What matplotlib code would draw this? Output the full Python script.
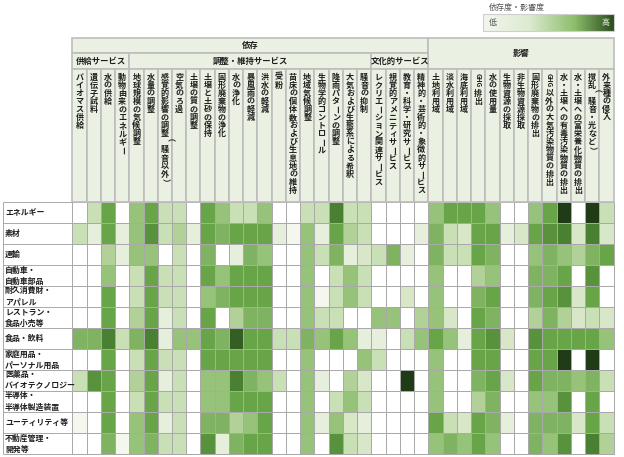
import numpy as np
import matplotlib
matplotlib.use("Agg")
import matplotlib.pyplot as plt
from matplotlib.patches import Rectangle
from matplotlib.colors import LinearSegmentedColormap

plt.rcParams['font.family'] = ['Noto Sans CJK JP', 'DejaVu Sans']

# ---- data ----
sectors = ["エネルギー", "素材", "運輸", "自動車・\n自動車部品", "耐久消費財・\nアパレル",
           "レストラン・\n食品小売等", "食品・飲料", "家庭用品・\nパーソナル用品",
           "医薬品・\nバイオテクノロジー", "半導体・\n半導体製造装置", "ユーティリティ等",
           "不動産管理・\n開発等"]

supply = ["バイオマス供給", "遺伝子試料", "水の供給", "動物由来のエネルギー"]
regulating = ["地球規模の気候調整", "水量の調整", "感覚的影響の調整（騒音以外）", "空気のろ過",
              "土壌の質の調整", "土壌と土砂の保持", "固形廃棄物の浄化", "水の浄化", "暴風雨の軽減",
              "洪水の軽減", "受粉", "苗床の個体数および生息地の維持", "地域気候調整",
              "生物学的コントロール", "降雨パターンの調整", "大気および生態系による希釈", "騒音の抑制"]
cultural = ["レクリエーション関連サービス", "視覚的アメニティサービス", "教育・科学・研究サービス",
            "精神的・芸術的・象徴的サービス"]
impacts = ["土地利用域", "淡水利用域", "海底利用域", "GHG排出", "水の使用量", "生物資源の採取",
           "非生物資源採取", "固形廃棄物の排出", "GHG以外の大気汚染物質の排出",
           "水・土壌への有毒汚染物質の排出", "水・土壌への富栄養化物質の排出",
           "撹乱（騒音・光など）", "外来種の侵入"]

# dependency level (0 = none ... 6 = very high), one row per sector
dep_values = [
    [0, 2, 4, 0, 3, 4, 2, 2, 0, 4, 3, 2, 2, 3, 0, 0, 2, 2, 5, 2, 2, 0, 0, 0, 0],
    [2, 1, 4, 1, 3, 4.5, 2, 2.5, 1, 4, 3.5, 4, 4, 4, 1, 0.5, 3, 1, 4, 2.5, 2, 0, 0, 0, 1],
    [0, 0, 2.5, 1, 3, 3, 0, 2, 0, 3.5, 0, 1, 3.5, 3, 0, 0, 3, 2, 3.5, 1, 1.5, 2, 3.5, 1, 0],
    [0, 0, 3, 0, 2, 4, 2, 2, 0, 4, 3, 4, 4, 4, 0, 0, 3, 0, 2, 3, 2, 0, 0, 0, 0],
    [0, 0, 4, 0, 2, 4, 2, 2, 0, 3, 3.5, 4, 4, 4, 0, 0, 3, 0.5, 2, 3, 2, 0, 0, 1.5, 0],
    [0, 0, 4, 0, 2.5, 4, 1, 2, 0, 4, 0, 2.5, 3.5, 3.5, 0, 0, 3, 2, 2, 0, 0, 3, 3, 0, 2.5],
    [3.5, 3.5, 5, 2, 3.5, 5, 1, 3, 3, 4, 3.5, 5.5, 4, 4, 2, 2, 3.5, 3, 4, 3, 1, 1, 0, 2, 3],
    [0, 0, 4, 0, 2, 4, 2, 2, 0, 4, 4, 4, 4, 4, 0, 0, 3, 0, 0, 0, 3, 2, 0, 0, 0],
    [2, 4.5, 4, 0, 2.5, 4, 1, 2, 0, 3, 3, 5, 3.5, 3, 2, 0, 3, 1, 0, 2.5, 1.5, 0, 0, 6, 0],
    [0, 0, 4, 0, 2, 4, 2, 2, 0, 3, 3, 4, 4, 4, 0, 0, 3, 0, 2, 3, 2, 0, 0, 0, 0],
    [0.5, 0, 4, 0, 3, 4, 1, 2, 0, 3.5, 3.5, 2.5, 3, 4, 0, 0, 3, 1, 3, 1.5, 1, 0, 0, 0, 0],
    [0, 0, 3.5, 0.5, 3, 3.5, 2, 2, 0, 4.5, 1, 3.5, 4, 4, 0, 0, 3, 0, 4.5, 2, 1.5, 0, 0, 0, 0],
]
imp_values = [
    [3, 4, 4, 4, 3, 0, 0, 3, 4, 6, 0, 6, 2],
    [3.5, 2, 1.5, 4, 4, 1, 1.5, 4, 4.5, 5, 1.5, 5, 1.5],
    [3.5, 2, 2, 4, 3.5, 0, 0, 3, 3.5, 3, 2.5, 3.5, 4],
    [3, 0, 0, 2.5, 3, 0, 0, 3.5, 3.5, 4, 0, 4.5, 0],
    [3, 0, 0, 3.5, 4, 0, 0, 3.5, 4, 4.5, 1.5, 4, 0],
    [3, 1.5, 0, 4, 3.5, 0, 0, 2.5, 3.5, 2.5, 1.5, 2, 1.5],
    [4, 3, 1, 4, 4.5, 1.5, 0, 4.5, 4, 4, 4, 4, 3],
    [3, 0, 0, 4, 4, 0, 0, 4, 4, 6, 0, 6, 0],
    [3, 0, 0, 3.5, 4, 1.5, 0, 4, 3.5, 3.5, 3, 3.5, 2],
    [3, 0, 0, 2.5, 3.5, 0, 0, 3, 3, 4.5, 0, 4, 0],
    [4, 2, 1.5, 4, 3.5, 1, 0, 3.5, 3.5, 3.5, 1.5, 4, 2],
    [3, 3.5, 3, 4, 3, 0, 0, 3.5, 3, 4.5, 0, 5, 2.5],
]

# ---- layout (pixel coords) ----
W, H = 624, 457
gx0, gx1 = 72.3, 613.5
gy0, gy1 = 202, 454
hy0, hy1, hy2 = 38, 53, 69
head_bg = '#eaf0e2'
edge = '#bdbdbd'
txt = '#1e1e1e'

columns = supply + regulating + cultural + impacts
ncol = len(columns)
values = np.hstack([np.array(dep_values), np.array(imp_values)])
xe = np.linspace(gx0, gx1, ncol + 1)
ye = np.linspace(gy0, gy1, len(sectors) + 1)

fig = plt.figure(figsize=(W / 100, H / 100), dpi=100)
ax = fig.add_axes([0, 0, 1, 1])
ax.set_xlim(0, W)
ax.set_ylim(H, 0)
ax.axis('off')

cmap = LinearSegmentedColormap.from_list(
    'lvl', [(0, '#ffffff'), (1 / 6, '#e6efdc'), (2 / 6, '#c9dfb5'), (3 / 6, '#98c27a'),
            (4 / 6, '#68a548'), (5 / 6, '#4a8131'), (1, '#203c17')])
ax.pcolormesh(xe, ye, values, cmap=cmap, vmin=0, vmax=6,
              edgecolors='#a9a9a9', linewidth=0.7)


def cell(x0, y0, x1, y1):
    ax.add_patch(Rectangle((x0, y0), x1 - x0, y1 - y0, facecolor=head_bg,
                           edgecolor=edge, lw=1.2))


# header boxes
n_dep = len(supply) + len(regulating) + len(cultural)
b1 = len(supply)
b2 = b1 + len(regulating)
cell(xe[0], hy0, xe[n_dep], hy1)
cell(xe[n_dep], hy0, xe[-1], hy2)
cell(xe[0], hy1, xe[b1], hy2)
cell(xe[b1], hy1, xe[b2], hy2)
cell(xe[b2], hy1, xe[n_dep], hy2)
for k in range(ncol):
    cell(xe[k], hy2, xe[k + 1], gy0)

hk = dict(fontsize=6, fontweight='bold', color=txt, ha='center', va='center')
ax.text((xe[0] + xe[n_dep]) / 2, (hy0 + hy1) / 2, "依存", **hk)
ax.text((xe[n_dep] + xe[-1]) / 2, (hy0 + hy2) / 2, "影響", **hk)
ax.text((xe[0] + xe[b1]) / 2, (hy1 + hy2) / 2, "供給サービス", **hk)
ax.text((xe[b1] + xe[b2]) / 2, (hy1 + hy2) / 2, "調整・維持サービス", **hk)
ax.text((xe[b2] + xe[n_dep]) / 2, (hy1 + hy2) / 2, "文化的サービス", **hk)

# vertical column labels (tategaki)
ROT = set("ー（）")


def vlabel(x, y, s, pitch=8.1, size=5.8):
    i = 0
    while i < len(s):
        ch = s[i]
        if ch.isascii() and ch.isalpha():
            j = i
            while j < len(s) and s[j].isascii() and s[j].isalpha():
                j += 1
            ax.text(x, y + 0.3, s[i:j], rotation=-90, ha='center', va='top',
                    fontsize=size * 0.8, fontweight='bold', color=txt)
            y += (j - i) * pitch * 0.62 + 1.0
            i = j
            continue
        ax.text(x, y + pitch / 2, ch, rotation=-90 if ch in ROT else 0,
                ha='center', va='center', fontsize=size, fontweight='bold', color=txt)
        y += pitch
        i += 1


for k, lab in enumerate(columns):
    vlabel((xe[k] + xe[k + 1]) / 2, hy2 + 4, lab)

# row labels
ax.vlines(3, gy0, gy1, color='#a9a9a9', lw=0.7)
ax.hlines(ye, 3, gx0, color='#a9a9a9', lw=0.7)
for r, lab in enumerate(sectors):
    ax.text(5, (ye[r] + ye[r + 1]) / 2, lab, ha='left', va='center', fontsize=5.7,
            fontweight='bold', color=txt, linespacing=1.3)

# legend
lx0, lx1, ly0, ly1 = 483, 614, 14, 31
gcmap = LinearSegmentedColormap.from_list(
    'leg', [(0, '#f3f7ef'), (0.35, '#dcebd0'), (0.7, '#8dbd6c'), (1, '#2a4b1d')])
ax.imshow(np.linspace(0, 1, 256)[None, :], cmap=gcmap, aspect='auto',
          extent=(lx0, lx1, ly1, ly0), zorder=2)
ax.add_patch(Rectangle((lx0, ly0), lx1 - lx0, ly1 - ly0, fill=False,
                       edgecolor='#cfcfcf', lw=0.8, zorder=3))
ax.text(517, 7, "依存度・影響度", ha='center', va='center', fontsize=5.8, color='#555555')
ax.text(lx0 + 10, (ly0 + ly1) / 2, "低", ha='center', va='center', fontsize=5.8, color='#555555', zorder=4)
ax.text(lx1 - 9, (ly0 + ly1) / 2, "高", ha='center', va='center', fontsize=5.8, color='#dfe8d6', zorder=4)

ax.set_xlim(0, W)
ax.set_ylim(H, 0)
fig.savefig("out.png", dpi=100)
